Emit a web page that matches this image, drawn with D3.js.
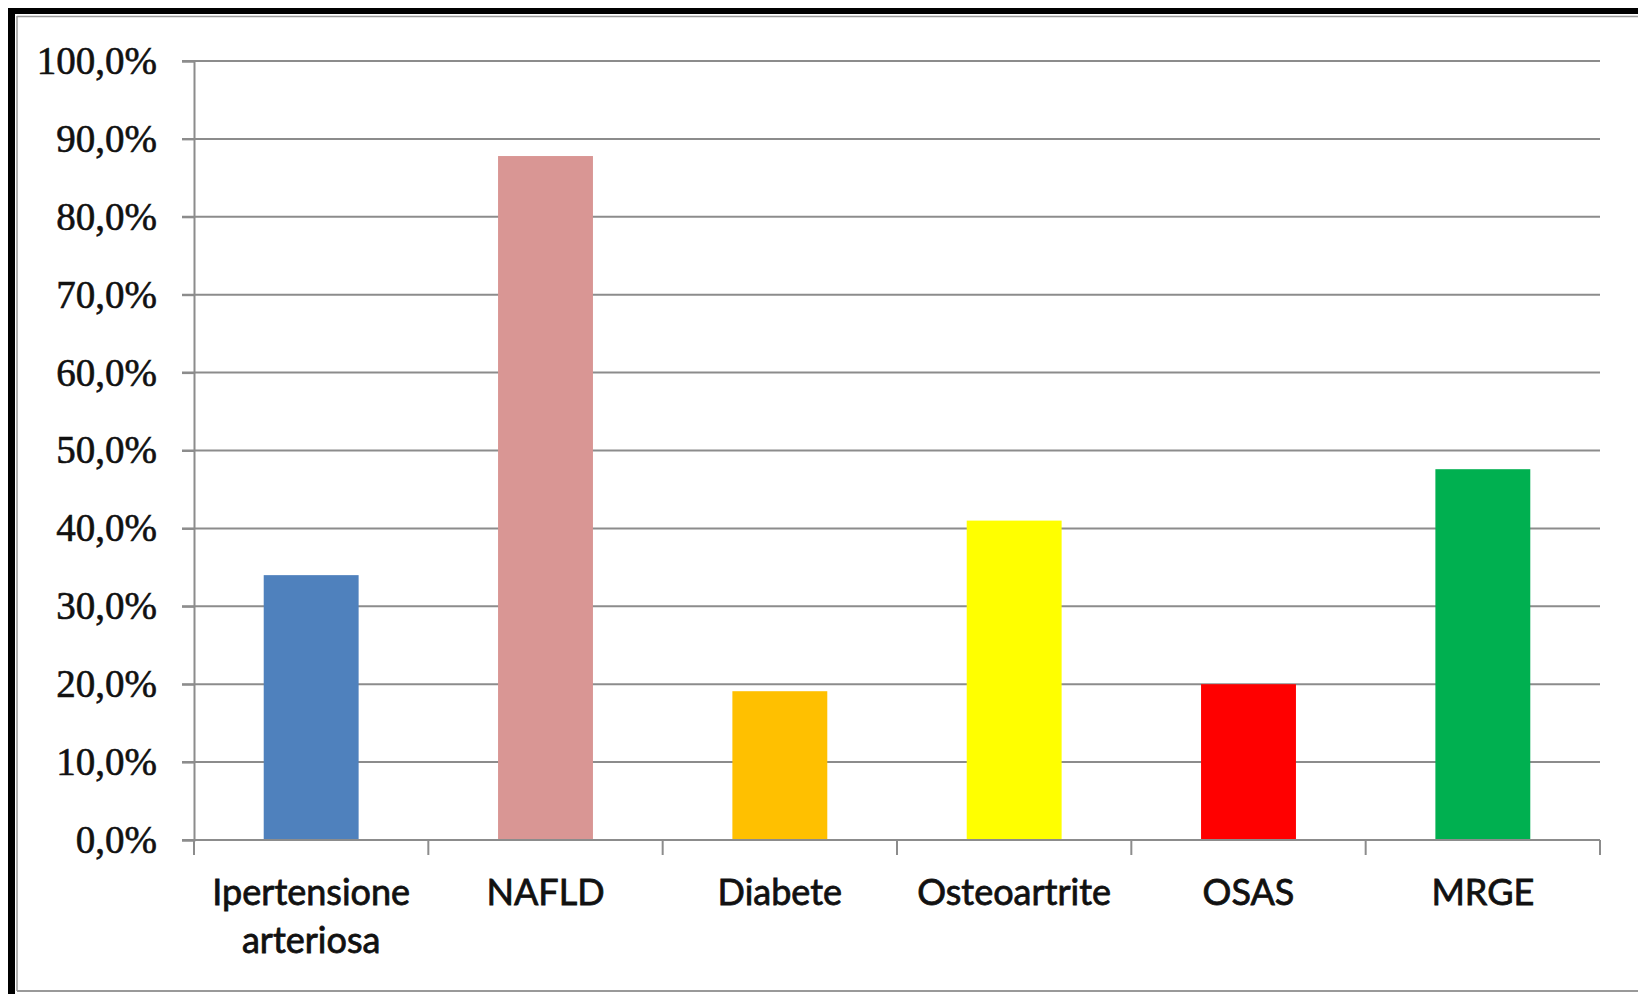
<!DOCTYPE html>
<html>
<head>
<meta charset="utf-8">
<script src="https://cdn.jsdelivr.net/npm/d3@7"></script>
<style>
  html, body { margin: 0; padding: 0; background: #fff; }
  svg { display: block; }
</style>
</head>
<body>
<div id="container"></div>
<script>
// dati
const categories = ['Ipertensione arteriosa', 'NAFLD', 'Diabete', 'Osteoartrite', 'OSAS', 'MRGE'];
const labelLines = [['Ipertensione', 'arteriosa'], ['NAFLD'], ['Diabete'], ['Osteoartrite'], ['OSAS'], ['MRGE']];
const values = [34.0, 87.8, 19.1, 41.0, 20.0, 47.6];
const barColors = ['#4f81bd', '#d99694', '#ffc000', '#ffff00', '#ff0000', '#00b050'];
const yTicks = [0, 10, 20, 30, 40, 50, 60, 70, 80, 90, 100];

const width = 1638, height = 994;
const margin = { top: 61, right: 38, bottom: 154, left: 194 };
const w = width - margin.left - margin.right;
const h = height - margin.top - margin.bottom;

const root = d3.select('#container').append('svg')
  .attr('width', width)
  .attr('height', height);

// cornice
root.append('rect').attr('x', 0).attr('y', 0).attr('width', width).attr('height', height).attr('fill', '#fff');
root.append('line').attr('x1', 11.5).attr('x2', 11.5).attr('y1', 8).attr('y2', height)
  .attr('stroke', '#000').attr('stroke-width', 7);
root.append('line').attr('x1', 8).attr('x2', width).attr('y1', 11).attr('y2', 11)
  .attr('stroke', '#000').attr('stroke-width', 6);
root.append('line').attr('x1', 17).attr('x2', 17).attr('y1', 16).attr('y2', 991)
  .attr('stroke', '#999').attr('stroke-width', 1.5);
root.append('line').attr('x1', 17).attr('x2', width).attr('y1', 16.5).attr('y2', 16.5)
  .attr('stroke', '#999').attr('stroke-width', 1.5);
root.append('line').attr('x1', 17).attr('x2', width).attr('y1', 991).attr('y2', 991)
  .attr('stroke', '#999').attr('stroke-width', 2);

const svg = root.append('g')
  .attr('transform', `translate(${margin.left},${margin.top})`);

const x = d3.scaleBand()
  .domain(categories)
  .range([0, w])
  .paddingInner(0.595)
  .paddingOuter(0.2975);
const y = d3.scaleLinear()
  .domain([0, 100])
  .range([h, 0]);

// griglia
svg.append('g')
  .selectAll('line')
  .data(yTicks)
  .enter()
  .append('line')
    .attr('x1', -12)
    .attr('x2', w)
    .attr('y1', d => y(d))
    .attr('y2', d => y(d))
    .attr('stroke', '#8c8c8c')
    .attr('stroke-width', 2);

// barre
svg.selectAll('rect.bar')
  .data(values)
  .enter()
  .append('rect')
    .attr('class', 'bar')
    .attr('x', (d, i) => x(categories[i]))
    .attr('y', d => y(d))
    .attr('width', x.bandwidth())
    .attr('height', d => h - y(d))
    .attr('fill', (d, i) => barColors[i]);

// asse Y
const yAxis = svg.append('g')
  .call(d3.axisLeft(y).tickValues(yTicks).tickSize(12).tickPadding(25)
    .tickFormat(d => d3.format('.1f')(d).replace('.', ',') + '%'));
yAxis.select('.domain').attr('stroke', '#8c8c8c').attr('stroke-width', 2);
yAxis.selectAll('.tick line').attr('stroke', '#8c8c8c').attr('stroke-width', 2);
yAxis.selectAll('.tick text')
  .attr('fill', '#111')
  .attr('stroke', '#111')
  .attr('stroke-width', 0.6)
  .style('font-family', '"Liberation Serif", serif')
  .style('font-size', '39px');

// asse X: tacche sui bordi delle categorie
const step = x.step();
const edges = d3.range(categories.length + 1).map(i => i * step);
svg.append('g')
  .selectAll('line')
  .data(edges)
  .enter()
  .append('line')
    .attr('x1', d => d)
    .attr('x2', d => d)
    .attr('y1', h)
    .attr('y2', h + 15)
    .attr('stroke', '#8c8c8c')
    .attr('stroke-width', 2);
svg.append('line')
  .attr('x1', 0).attr('x2', w).attr('y1', h).attr('y2', h)
  .attr('stroke', '#8c8c8c').attr('stroke-width', 2);

const xl = svg.append('g')
  .selectAll('text')
  .data(categories)
  .enter()
  .append('text')
    .attr('x', d => x(d) + x.bandwidth() / 2)
    .attr('y', h + 65)
    .attr('text-anchor', 'middle')
    .attr('fill', '#111')
    .attr('stroke', '#111')
    .attr('stroke-width', 0.8)
    .style('font-family', 'Lato, sans-serif')
    .style('font-size', '36px');
xl.selectAll('tspan')
  .data((d, i) => labelLines[i])
  .enter()
  .append('tspan')
    .attr('x', function () { return d3.select(this.parentNode).attr('x'); })
    .attr('dy', (d, i) => i === 0 ? 0 : 48)
    .text(d => d);
</script>
</body>
</html>
